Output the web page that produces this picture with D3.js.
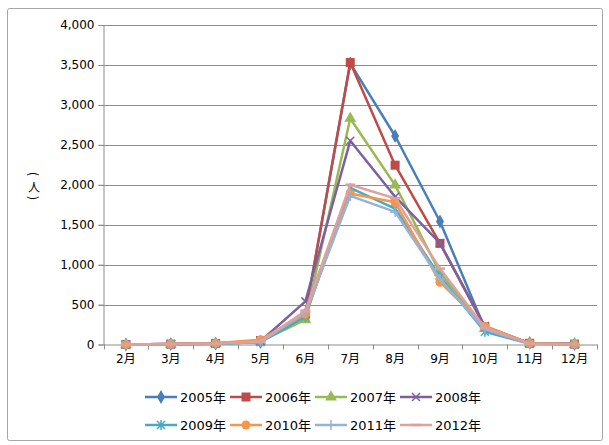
<!DOCTYPE html>
<html><head><meta charset="utf-8">
<script src="https://cdn.jsdelivr.net/npm/d3@7"></script>
<style>body{margin:0;background:#fff}svg{display:block}</style>
</head><body>
<script>
const months = ["2月","3月","4月","5月","6月","7月","8月","9月","10月","11月","12月"];
const seriesNames = ["2005年","2006年","2007年","2008年","2009年","2010年","2011年","2012年"];
const s2005 = [0, 5, 10, 30, 380, 3520, 2610, 1540, 200, 20, 5];
const s2006 = [0, 5, 12, 50, 380, 3530, 2245, 1266, 220, 15, 5];
const s2007 = [0, 3, 10, 40, 310, 2830, 1995, 900, 200, 15, 3];
const s2008 = [0, 5, 15, 40, 540, 2550, 1850, 1270, 230, 15, 5];
const s2009 = [0, 3, 8, 30, 350, 1960, 1700, 850, 160, 10, 3];
const s2010 = [0, 5, 15, 60, 380, 1890, 1780, 780, 230, 15, 5];
const s2011 = [0, 3, 10, 30, 400, 1860, 1660, 820, 190, 10, 3];
const s2012 = [0, 5, 12, 40, 420, 2000, 1830, 950, 210, 10, 3];
const yTicks = [0, 500, 1000, 1500, 2000, 2500, 3000, 3500, 4000];
const yTitle = ["(", "人", ")"];

(function () {
const seriesValues = [s2005, s2006, s2007, s2008, s2009, s2010, s2011, s2012];
const colors = ["#4A7EBB","#BE4B48","#98B954","#7D60A0","#46AAC5","#F79646","#95B3D7","#E0A09E"];
const markers = ["diamond","square","triangle","x","star","circle","plus","dash"];

const W = 609, H = 445;
const svg = d3.select("body").append("svg").attr("width", W).attr("height", H);
const font = "'DejaVu Sans','Noto Sans CJK JP',sans-serif";

svg.append("rect").attr("x", 7.5).attr("y", 8.5).attr("width", 595).attr("height", 432)
  .attr("fill", "#fff").attr("stroke", "#a6a6a6").attr("stroke-width", 1).attr("rx", 2);

const pLeft = 103.5, pRight = 597, pTop = 25, pBottom = 344.5;
const x = d3.scaleBand().domain(months).range([pLeft, pRight]);
const y = d3.scaleLinear().domain([0, 4000]).range([pBottom, pTop]);

// gridlines
svg.append("g").selectAll("line").data(yTicks.filter(d => d > 0)).join("line")
  .attr("x1", pLeft - 5).attr("x2", pRight)
  .attr("y1", d => Math.round(y(d)) + 0.5).attr("y2", d => Math.round(y(d)) + 0.5)
  .attr("stroke", "#8c8c8c").attr("stroke-width", 1);

// y axis
const yAxis = svg.append("g").attr("transform", `translate(${pLeft},0)`)
  .call(d3.axisLeft(y).tickValues(yTicks).tickSize(5).tickFormat(d3.format(",")));
yAxis.select(".domain").attr("stroke", "#8c8c8c");
yAxis.selectAll(".tick line").attr("stroke", "#8c8c8c");
yAxis.selectAll("text").attr("font-family", font).attr("font-size", 12).attr("fill", "#000").attr("x", -9);

// x axis
const xAxis = svg.append("g").attr("transform", `translate(0,${pBottom})`)
  .call(d3.axisBottom(x).tickSize(0).tickPadding(10));
xAxis.select(".domain").attr("stroke", "#8c8c8c");
xAxis.selectAll("text").attr("font-family", font).attr("font-size", 12).attr("fill", "#000");
svg.append("g").selectAll("line").data(d3.range(months.length + 1)).join("line")
  .attr("x1", i => Math.round(pLeft + i * x.step()) + 0.5)
  .attr("x2", i => Math.round(pLeft + i * x.step()) + 0.5)
  .attr("y1", pBottom).attr("y2", pBottom + 5)
  .attr("stroke", "#8c8c8c");

// y title (vertical, parentheses rotated)
const ty = [174, 186, 198];
svg.append("g").selectAll("text").data(yTitle).join("text")
  .attr("x", 0).attr("y", 0)
  .attr("transform", (d, i) => `translate(34,${ty[i]})` + (i !== 1 ? " rotate(90)" : ""))
  .attr("dominant-baseline", "central")
  .attr("font-family", "'Noto Sans CJK JP',sans-serif").attr("font-size", 12)
  .attr("text-anchor", "middle").attr("fill", "#000").text(d => d);

function drawMarker(g, type, cx, cy, color) {
  if (type === "diamond") {
    g.append("path").attr("d", d3.symbol(d3.symbolDiamond, 55)()).attr("transform", `translate(${cx},${cy})`).attr("fill", color);
  } else if (type === "square") {
    g.append("rect").attr("x", cx - 4.5).attr("y", cy - 4.5).attr("width", 9).attr("height", 9).attr("fill", color);
  } else if (type === "triangle") {
    g.append("path").attr("d", d3.symbol(d3.symbolTriangle, 60)()).attr("transform", `translate(${cx},${cy})`).attr("fill", color);
  } else if (type === "x") {
    g.append("path").attr("d", `M${cx-4},${cy-4}L${cx+4},${cy+4}M${cx-4},${cy+4}L${cx+4},${cy-4}`).attr("stroke", color).attr("stroke-width", 1.5);
  } else if (type === "star") {
    g.append("path").attr("d", `M${cx-4},${cy-4}L${cx+4},${cy+4}M${cx-4},${cy+4}L${cx+4},${cy-4}M${cx},${cy-5}L${cx},${cy+5}`).attr("stroke", color).attr("stroke-width", 1.5);
  } else if (type === "circle") {
    g.append("circle").attr("cx", cx).attr("cy", cy).attr("r", 4.5).attr("fill", color);
  } else if (type === "plus") {
    g.append("path").attr("d", `M${cx-5},${cy}L${cx+5},${cy}M${cx},${cy-5}L${cx},${cy+5}`).attr("stroke", color).attr("stroke-width", 1.5);
  } else if (type === "dash") {
    g.append("path").attr("d", `M${cx-5},${cy}L${cx+5},${cy}`).attr("stroke", color).attr("stroke-width", 2.5);
  }
}

const line = d3.line().x((d, i) => x(months[i]) + x.bandwidth() / 2).y(d => y(d));
const plot = svg.append("g");
seriesValues.forEach((vals, k) => {
  const g = plot.append("g");
  g.append("path").datum(vals).attr("d", line).attr("fill", "none")
    .attr("stroke", colors[k]).attr("stroke-width", 2.5).attr("stroke-linejoin", "round");
  vals.forEach((v, i) => drawMarker(g, markers[k], x(months[i]) + x.bandwidth() / 2, y(v), colors[k]));
});

// legend
const legX = [145, 230, 315, 400];
const legY = [397, 425];
seriesNames.forEach((name, k) => {
  const lx = legX[k % 4], ly = legY[Math.floor(k / 4)];
  const g = svg.append("g");
  g.append("line").attr("x1", lx).attr("x2", lx + 32).attr("y1", ly).attr("y2", ly)
    .attr("stroke", colors[k]).attr("stroke-width", 2.5);
  drawMarker(g, markers[k], lx + 16, ly, colors[k]);
  g.append("text").attr("x", lx + 35).attr("y", ly + 5)
    .attr("font-family", font).attr("font-size", 13).attr("fill", "#000").text(name);
});
})();
</script>
</body></html>
